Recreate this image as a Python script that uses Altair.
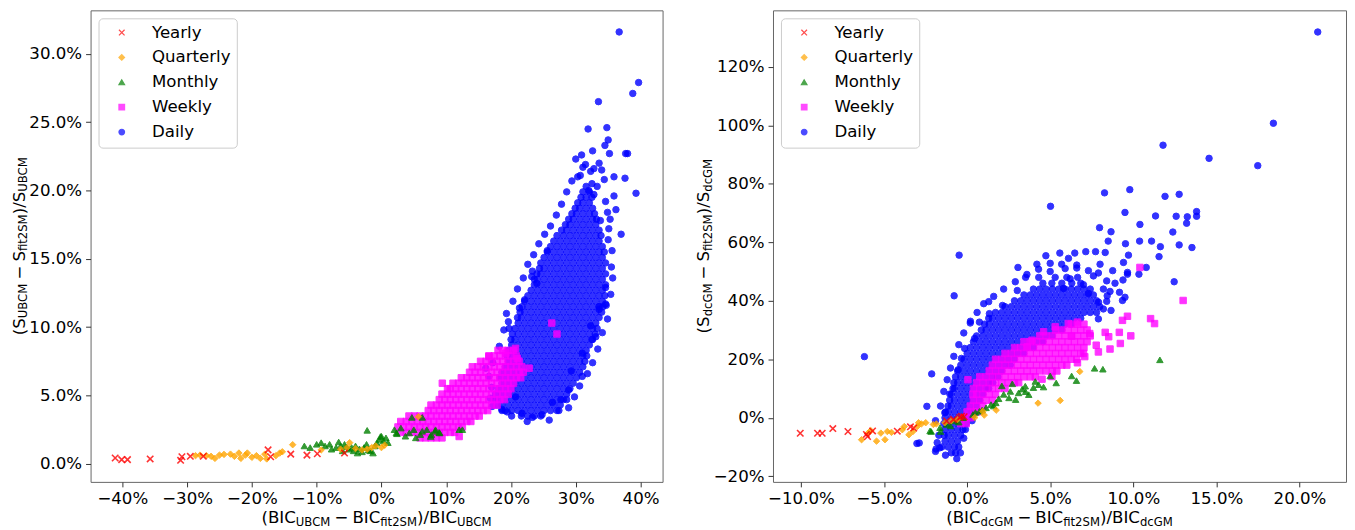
import altair as alt
import pandas as pd

# ---------------- categories / styling ----------------
FREQS = ["Yearly", "Quarterly", "Monthly", "Weekly", "Daily"]
COLORS = ["#ff0000", "#ffa500", "#008000", "#ff00ff", "#0000ff"]
X_PATH = "M-1,-1L1,1M-1,1L1,-1"
SHAPES = [X_PATH, "diamond", "triangle-up", "square", "circle"]

# ---------------- LEFT panel data (values in %) ----------------
yearly_left = [(-41.1, 0.43), (-40.1, 0.31), (-39.2, 0.31), (-35.7, 0.36), (-31.0, 0.26),
               (-30.8, 0.52), (-29.5, 0.55), (-27.5, 0.55), (-17.5, 1.02), (-17.1, 0.52),
               (-14.0, 0.71), (-11.5, 0.64), (-9.9, 0.74), (-5.7, 0.79)]

quarterly_left = [(-28.7, 0.60), (-28.0, 0.64), (-27.0, 0.60), (-26.3, 0.55), (-25.7, 0.40),
                  (-25.0, 0.64), (-24.3, 0.69), (-23.3, 0.71), (-22.7, 0.55), (-22.0, 0.79),
                  (-21.7, 0.40), (-21.0, 0.64), (-20.7, 0.79), (-20.0, 0.48), (-19.3, 0.60),
                  (-18.7, 0.40), (-18.0, 0.71), (-17.7, 0.36), (-16.3, 0.60), (-15.7, 0.79),
                  (-15.3, 0.88), (-13.7, 1.40), (-9.3, 1.02), (-6.3, 1.07), (-5.3, 1.19),
                  (-4.9, 1.55), (-4.0, 1.12), (-3.0, 1.02), (-2.2, 1.07), (-1.5, 1.19),
                  (-0.9, 1.31), (0.0, 1.19), (0.5, 1.36), (5.7, 3.45)]

monthly_left = [(-11.9, 1.31), (-11.0, 1.19), (-10.0, 1.43), (-9.3, 1.55), (-8.7, 1.31), (-8.0, 1.43),
                (-7.7, 1.07), (-7.0, 1.19), (-6.3, 1.31), (-6.0, 0.95), (-5.7, 1.43), (-5.0, 1.07),
                (-4.3, 0.95), (-4.0, 1.31), (-3.7, 0.79), (-3.0, 0.88), (-2.7, 1.19), (-2.3, 1.43),
                (-2.2, 2.45), (-1.7, 0.95), (-1.3, 0.79), (-1.0, 1.31), (-0.7, 1.55), (-0.3, 1.79),
                (0.0, 2.02), (0.3, 1.67), (0.7, 1.90), (1.0, 1.55), (2.0, 2.50), (2.3, 2.26),
                (3.0, 2.62), (3.7, 2.02), (4.3, 2.26), (5.0, 2.50), (5.3, 1.90), (6.0, 2.14),
                (6.3, 2.38), (7.0, 2.50), (7.7, 2.14), (8.3, 2.38), (9.0, 2.26), (12.0, 2.50),
                (4.7, 3.4), (6.3, 3.4), (2.4, 2.2), (-0.15, 2.0), (8.35, 2.5), (7.6, 2.0),
                (12.5, 2.5), (8.9, 2.3), (-3.4, 1.1), (-5.4, 1.25), (-6.6, 1.6), (-2.0, 1.0), (-4.6, 1.2)]

weekly_left_rows = [
    (1.9, [5.95, 6.8, 7.65, 8.5, 9.35]),
    (2.3, [2.98, 3.83, 4.68, 5.53, 6.38, 7.23, 8.08, 8.93, 9.78, 10.63, 11.3]),
    (2.7, [2.55, 3.4, 4.25, 5.1, 5.95, 6.8, 7.65, 8.5, 9.35, 10.2, 11.05, 11.9, 12.5]),
    (3.1, [2.98, 3.83, 4.68, 5.53, 6.38, 7.23, 8.08, 8.93, 9.78, 10.63, 11.48, 12.33, 13.18, 13.8]),
    (3.5, [4.25, 5.1, 5.95, 6.8, 7.65, 8.5, 9.35, 10.2, 11.05, 11.9, 12.75, 13.6, 14.45, 15.1]),
    (3.9, [7.23, 8.08, 8.93, 9.78, 10.63, 11.48, 12.33, 13.18, 14.03, 14.88, 15.73, 16.4]),
    (4.3, [7.65, 8.5, 9.35, 10.2, 11.05, 11.9, 12.75, 13.6, 14.45, 15.3, 16.15, 17.0, 17.85]),
    (4.7, [8.93, 9.78, 10.63, 11.48, 12.33, 13.18, 14.03, 14.88, 15.73, 16.58, 17.43, 18.28, 19.0]),
    (5.1, [9.35, 10.2, 11.05, 11.9, 12.75, 13.6, 14.45, 15.3, 16.15, 17.0, 17.85, 18.7, 19.55]),
    (5.5, [10.2, 10.63, 11.48, 12.33, 13.18, 14.03, 14.88, 15.73, 16.58, 17.43, 18.28, 19.13, 19.98]),
    (5.9, [9.4, 11.05, 11.9, 12.75, 13.6, 14.45, 15.3, 16.15, 17.0, 17.85, 18.7, 19.55, 20.4]),
    (6.3, [12.33, 13.18, 14.03, 14.88, 15.73, 16.58, 17.43, 18.28, 19.13, 19.98, 20.83, 21.5]),
    (6.7, [13.6, 14.45, 15.3, 16.15, 17.0, 17.85, 18.7, 19.55, 20.4, 21.25, 21.9]),
    (7.1, [14.03, 14.88, 15.73, 16.58, 17.43, 18.28, 19.13, 19.98, 20.83, 21.68]),
    (7.5, [15.3, 16.15, 17.0, 17.85, 18.7, 19.55, 20.4, 21.25]),
    (7.9, [16.58, 17.43, 18.28, 19.13, 19.98, 20.83]),
    (8.3, [18.0, 18.7, 19.55, 20.4]),
]
weekly_left_extra = [(26.3, 10.3), (27.1, 9.5), (22.8, 7.0), (21.0, 7.7), (19.2, 8.1),
                     (20.7, 8.45), (16.6, 7.85), (12.0, 2.0)]

daily_left_rows = [
    (3.5, [21.6, 22.6, 23.6, 24.6]),
    (3.9, [18.6, 19.1, 20.1, 21.1, 22.1, 23.1, 24.1, 25.1, 26.1, 27.1]),
    (4.3, [17.8, 18.6, 19.6, 20.6, 21.6, 22.6, 23.6, 24.6, 25.6, 26.6, 27.6]),
    (4.7, [17.5, 18.1, 19.1, 20.1, 21.1, 22.1, 23.1, 24.1, 25.1, 26.1, 27.1, 28.1, 28.6]),
    (5.1, [17.6, 18.6, 19.6, 20.6, 21.6, 22.6, 23.6, 24.6, 25.6, 26.6, 27.6, 28.6]),
    (5.5, [18.1, 19.1, 20.1, 21.1, 22.1, 23.1, 24.1, 25.1, 26.1, 27.1, 28.1, 29.1]),
    (5.9, [18.6, 19.6, 20.6, 21.6, 22.6, 23.6, 24.6, 25.6, 26.6, 27.6, 28.6, 29.6]),
    (6.3, [18.3, 19.1, 20.1, 21.1, 22.1, 23.1, 24.1, 25.1, 26.1, 27.1, 28.1, 29.1, 30.1]),
    (6.7, [18.6, 19.6, 20.6, 21.6, 22.6, 23.6, 24.6, 25.6, 26.6, 27.6, 28.6, 29.6, 30.6]),
    (7.1, [19.1, 20.1, 21.1, 22.1, 23.1, 24.1, 25.1, 26.1, 27.1, 28.1, 29.1, 30.1, 31.1]),
    (7.5, [19.6, 20.6, 21.6, 22.6, 23.6, 24.6, 25.6, 26.6, 27.6, 28.6, 29.6, 30.6, 31.4]),
    (7.9, [19.4, 20.1, 21.1, 22.1, 23.1, 24.1, 25.1, 26.1, 27.1, 28.1, 29.1, 30.1, 31.1, 31.7]),
    (8.3, [19.6, 20.6, 21.6, 22.6, 23.6, 24.6, 25.6, 26.6, 27.6, 28.6, 29.6, 30.6, 31.6]),
    (8.7, [20.1, 21.1, 22.1, 23.1, 24.1, 25.1, 26.1, 27.1, 28.1, 29.1, 30.1, 31.1, 32.1]),
    (9.1, [20.0, 20.6, 21.6, 22.6, 23.6, 24.6, 25.6, 26.6, 27.6, 28.6, 29.6, 30.6, 31.6, 32.6]),
    (9.5, [20.2, 21.1, 22.1, 23.1, 24.1, 25.1, 26.1, 27.1, 28.1, 29.1, 30.1, 31.1, 32.1, 33.0]),
    (9.9, [20.6, 21.6, 22.6, 23.6, 24.6, 25.6, 26.6, 27.6, 28.6, 29.6, 30.6, 31.6, 32.6, 33.3]),
    (10.3, [21.1, 22.1, 23.1, 24.1, 25.1, 26.1, 27.1, 28.1, 29.1, 30.1, 31.1, 32.1, 33.1]),
    (10.7, [21.0, 21.6, 22.6, 23.6, 24.6, 25.6, 26.6, 27.6, 28.6, 29.6, 30.6, 31.6, 32.6, 33.6]),
    (11.1, [21.4, 22.1, 23.1, 24.1, 25.1, 26.1, 27.1, 28.1, 29.1, 30.1, 31.1, 32.1, 33.1, 34.0]),
    (11.5, [21.7, 22.6, 23.6, 24.6, 25.6, 26.6, 27.6, 28.6, 29.6, 30.6, 31.6, 32.6, 33.6, 34.2]),
    (11.9, [22.1, 23.1, 24.1, 25.1, 26.1, 27.1, 28.1, 29.1, 30.1, 31.1, 32.1, 33.1, 34.1]),
    (12.3, [22.6, 23.6, 24.6, 25.6, 26.6, 27.6, 28.6, 29.6, 30.6, 31.6, 32.6, 33.6, 34.5]),
    (12.7, [23.1, 24.1, 25.1, 26.1, 27.1, 28.1, 29.1, 30.1, 31.1, 32.1, 33.1, 34.1]),
    (13.1, [23.6, 24.6, 25.6, 26.6, 27.6, 28.6, 29.6, 30.6, 31.6, 32.6, 33.6, 34.6]),
    (13.5, [23.6, 24.1, 25.1, 26.1, 27.1, 28.1, 29.1, 30.1, 31.1, 32.1, 33.1, 34.1]),
    (13.9, [24.0, 24.6, 25.6, 26.6, 27.6, 28.6, 29.6, 30.6, 31.6, 32.6, 33.6, 34.6]),
    (14.3, [24.4, 25.1, 26.1, 27.1, 28.1, 29.1, 30.1, 31.1, 32.1, 33.1, 34.1]),
    (14.7, [24.6, 25.6, 26.6, 27.6, 28.6, 29.6, 30.6, 31.6, 32.6, 33.6, 34.6]),
    (15.1, [25.1, 26.1, 27.1, 28.1, 29.1, 30.1, 31.1, 32.1, 33.1, 34.1]),
    (15.5, [25.6, 26.6, 27.6, 28.6, 29.6, 30.6, 31.6, 32.6, 33.6, 34.4]),
    (15.9, [26.1, 27.1, 28.1, 29.1, 30.1, 31.1, 32.1, 33.1, 34.1]),
    (16.3, [26.6, 27.6, 28.6, 29.6, 30.6, 31.6, 32.6, 33.6]),
    (16.7, [27.1, 28.1, 29.1, 30.1, 31.1, 32.1, 33.1, 33.9]),
    (17.1, [27.8, 28.6, 29.6, 30.6, 31.6, 32.6, 33.6]),
    (17.5, [28.4, 29.1, 30.1, 31.1, 32.1, 33.1]),
    (17.9, [28.9, 29.6, 30.6, 31.6, 32.6, 33.2]),
    (18.3, [29.4, 30.1, 31.1, 32.1, 32.9]),
    (18.7, [29.9, 30.6, 31.6, 32.6]),
    (19.1, [30.3, 31.1, 32.1]),
    (19.5, [30.8, 31.6, 32.5]),
    (19.9, [31.1, 32.1]),
    (20.3, [31.6]),
]
daily_left_extra = [(36.7, 31.6), (39.7, 27.9), (38.8, 27.1), (33.5, 26.5), (31.9, 24.5), (34.8, 24.6),
                    (35.0, 23.7), (34.5, 23.3), (35.2, 22.7), (38.0, 22.7), (31.5, 21.9), (32.8, 21.6),
                    (34.0, 21.5), (30.3, 21.0), (30.7, 21.1), (37.6, 20.9), (32.5, 20.5), (33.3, 20.3),
                    (32.0, 20.0), (32.8, 19.7), (35.9, 19.6), (39.3, 19.8), (36.2, 18.6), (34.9, 18.4),
                    (33.8, 17.8), (35.1, 17.2), (35.0, 16.4), (37.0, 16.8), (35.7, 13.6), (34.6, 12.9),
                    (34.6, 11.7), (33.6, 11.3), (32.3, 10.1), (33.1, 9.3), (31.0, 8.1), (29.3, 6.8),
                    (25.6, 15.6), (23.3, 14.1), (23.2, 13.7), (24.0, 13.2), (22.1, 12.0), (21.3, 11.4),
                    (19.6, 10.4), (19.7, 9.9), (16.1, 7.0), (16.6, 6.4), (17.1, 4.2), (18.6, 4.0),
                    (21.7, 3.7), (23.3, 3.4), (24.8, 3.6), (26.4, 4.5), (27.7, 4.7), (28.9, 5.4),
                    (31.0, 6.4), (32.5, 9.1), (33.6, 11.5), (34.7, 11.6), (20.7, 4.9), (35.9, 21.0),
                    (31.1, 21.7), (32.3, 21.4), (37.7, 22.7),
                    (17.0, 5.6), (16.8, 4.8), (17.2, 7.4), (18.2, 8.6), (18.9, 9.8), (19.3, 11.0),
                    (20.3, 11.9), (21.0, 12.8), (21.9, 13.6), (22.6, 14.6), (23.5, 15.3), (24.3, 16.1),
                    (25.2, 16.8), (26.1, 17.4), (27.0, 18.2), (27.8, 19.0), (28.6, 19.9), (29.4, 20.7),
                    (30.0, 22.3), (30.9, 22.6), (32.6, 22.9), (33.6, 22.0), (34.4, 20.8), (34.6, 19.2),
                    (35.3, 17.9), (35.6, 15.6), (35.5, 14.4), (35.4, 12.4), (34.9, 10.6), (34.1, 9.6),
                    (33.4, 8.4), (32.6, 7.4), (31.8, 6.6), (30.6, 5.7), (29.8, 4.9), (28.9, 4.1),
                    (27.4, 3.9), (25.9, 3.2), (22.5, 3.1), (20.1, 3.5), (19.4, 3.8)]

# ---------------- RIGHT panel data (values in %) ----------------
yearly_right = [(-10.04, -5.3), (-9.0, -5.3), (-8.72, -5.3), (-8.08, -3.7), (-7.17, -4.7),
                (-6.06, -5.7), (-5.99, -6.4), (-5.69, -4.5), (-4.2, -4.6), (-3.41, -3.1),
                (-3.21, -3.5), (-0.82, -0.56), (-0.44, 0.1), (-0.18, 0.34), (-1.23, -1.1), (-0.34, 0.5)]

quarterly_right = [(-6.35, -7.5), (-5.96, -5.25), (-5.8, -4.4), (-5.45, -8.0), (-5.19, -5.25),
                   (-4.94, -7.5), (-4.8, -4.7), (-4.55, -5.0), (-3.9, -4.1), (-3.78, -3.0),
                   (-3.5, -5.8), (-3.26, -4.7), (-3.0, -3.0), (-2.75, -2.1), (-2.49, -1.7),
                   (-1.85, -2.1), (-1.34, -1.7), (-0.95, -1.0), (-0.57, -0.56), (0.46, 0.1),
                   (1.03, 0.9), (1.75, 2.6), (4.27, 5.0), (5.6, 5.9), (6.78, 15.8), (0.94, 2.2),
                   (-2.92, -1.7), (-2.03, -2.3)]

monthly_right = [(11.6, 19.8), (7.67, 16.9), (8.17, 16.6), (6.29, 14.3), (6.58, 12.7), (5.36, 11.9),
                 (5.0, 14.3), (4.3, 11.3), (4.6, 10.5), (3.71, 7.9), (3.32, 9.8), (2.72, 11.6),
                 (2.09, 10.9), (2.52, 6.8), (2.92, 6.2), (1.73, 5.1), (1.44, 4.5), (1.14, 3.4),
                 (0.74, 2.2), (0.35, 1.1), (-0.24, 0.0), (-0.74, -1.1), (-1.23, -2.3), (-1.63, -3.4),
                 (-2.23, -4.5), (-2.16, -4.7), (-1.6, -4.7), (3.52, 8.9), (3.99, 10.3), (2.2, 8.0),
                 (1.9, 6.5), (2.6, 9.0), (3.1, 8.5), (0.9, 2.6), (0.5, 1.8), (-0.5, -1.5),
                 (-1.0, -2.8), (1.6, 4.0), (3.5, 10.8), (4.1, 12.4)]

weekly_right_rows = [
    (-2, [-0.38, -0.05]),
    (0, [-0.19, 0.19]),
    (2, [0.0, 0.38, 0.6]),
    (4, [0.19, 0.57, 0.95]),
    (6, [0.38, 0.76, 1.14, 1.52]),
    (8, [0.35, 0.57, 0.95, 1.33, 1.71]),
    (10, [0.38, 0.76, 1.14, 1.52, 1.9, 2.28]),
    (12, [0.57, 0.95, 1.33, 1.71, 2.09, 2.47, 2.85, 3.1]),
    (14, [0.76, 1.14, 1.52, 1.9, 2.28, 2.66, 3.04, 3.42, 3.8, 4.1]),
    (16, [1.33, 1.71, 2.09, 2.47, 2.85, 3.23, 3.61, 3.99, 4.37, 4.75, 5.13, 5.4]),
    (18, [1.52, 1.9, 2.28, 2.66, 3.04, 3.42, 3.8, 4.18, 4.56, 4.94, 5.32, 5.7, 6.0]),
    (20, [1.71, 2.09, 2.47, 2.85, 3.23, 3.61, 3.99, 4.37, 4.75, 5.13, 5.51, 5.89, 6.27, 6.6]),
    (22, [2.28, 2.66, 3.04, 3.42, 3.8, 4.18, 4.56, 4.94, 5.32, 5.7, 6.08, 6.46, 6.84, 7.0]),
    (24, [2.85, 3.23, 3.61, 3.99, 4.37, 4.75, 5.13, 5.51, 5.89, 6.27, 6.65, 7.03]),
    (26, [3.42, 3.8, 4.18, 4.56, 4.94, 5.32, 5.7, 6.08, 6.46, 6.84, 7.22]),
    (28, [4.37, 4.75, 5.13, 5.51, 5.89, 6.27, 6.65, 7.03, 7.41]),
    (30, [5.32, 5.7, 6.08, 6.46, 6.84, 7.22]),
    (32, [6.27, 6.65, 7.03]),
]
weekly_right_extra = [(10.4, 51.4), (13.0, 40.1), (9.65, 34.7), (9.35, 33.3), (11.04, 33.9), (11.28, 32.2),
                      (9.85, 28.0), (9.22, 25.4), (9.16, 29.2), (8.52, 27.7), (8.31, 29.2), (7.77, 24.8),
                      (7.08, 20.9), (6.64, 18.8), (7.38, 28.8), (6.64, 32.7), (6.09, 32.2), (6.29, 27.9),
                      (5.3, 31.1), (4.6, 29.4), (3.91, 26.5), (3.62, 24.3), (5.1, 14.1), (4.51, 13.2),
                      (0.05, 13.0), (7.9, 22.5), (8.6, 23.5)]

daily_right_rows = [
    (-14, [-0.62]),
    (-12, [-0.95, -0.7]),
    (-10, [-1.52, -1.14, -0.76, -0.5]),
    (-8, [-1.33, -0.95, -0.57]),
    (-6, [-1.38, -1.14, -0.76, -0.38]),
    (-4, [-1.33, -0.95, -0.57, -0.25]),
    (-2, [-1.4, -1.14, -0.76, -0.38, -0.05]),
    (0, [-1.33, -0.95, -0.57, -0.19, 0.1]),
    (2, [-1.3, -1.14, -0.76, -0.38, 0.0, 0.3]),
    (4, [-1.15, -0.95, -0.57, -0.19, 0.19, 0.57]),
    (6, [-1.05, -0.76, -0.38, 0.0, 0.38, 0.76]),
    (8, [-0.95, -0.57, -0.19, 0.19, 0.57, 0.95]),
    (10, [-0.85, -0.76, -0.38, 0.0, 0.38, 0.76, 1.14, 1.3]),
    (12, [-0.8, -0.57, -0.19, 0.19, 0.57, 0.95, 1.33, 1.55]),
    (14, [-0.7, -0.38, 0.0, 0.38, 0.76, 1.14, 1.52, 1.85]),
    (16, [-0.57, -0.19, 0.19, 0.57, 0.95, 1.33, 1.71, 2.09]),
    (18, [-0.38, 0.0, 0.38, 0.76, 1.14, 1.52, 1.9, 2.28, 2.6]),
    (20, [-0.19, 0.19, 0.57, 0.95, 1.33, 1.71, 2.09, 2.47, 2.85]),
    (22, [0.0, 0.38, 0.76, 1.14, 1.52, 1.9, 2.28, 2.66, 3.04, 3.4]),
    (24, [0.19, 0.57, 0.95, 1.33, 1.71, 2.09, 2.47, 2.85, 3.23, 3.61, 3.99]),
    (26, [0.38, 0.76, 1.14, 1.52, 1.9, 2.28, 2.66, 3.04, 3.42, 3.8, 4.18, 4.56]),
    (28, [0.57, 0.95, 1.33, 1.71, 2.09, 2.47, 2.85, 3.23, 3.61, 3.99, 4.37, 4.75, 5.13]),
    (30, [0.85, 1.14, 1.52, 1.9, 2.28, 2.66, 3.04, 3.42, 3.8, 4.18, 4.56, 4.94, 5.32, 5.7]),
    (32, [1.05, 1.33, 1.71, 2.09, 2.47, 2.85, 3.23, 3.61, 3.99, 4.37, 4.75, 5.13, 5.51, 5.89, 6.27]),
    (34, [1.3, 1.52, 1.9, 2.28, 2.66, 3.04, 3.42, 3.8, 4.18, 4.56, 4.94, 5.32, 5.7, 6.08, 6.46, 6.84]),
    (36, [1.71, 2.09, 2.47, 2.85, 3.23, 3.61, 3.99, 4.37, 4.75, 5.13, 5.51, 5.89, 6.27, 6.65, 7.03, 7.41, 7.79]),
    (38, [2.28, 2.66, 3.04, 3.42, 3.8, 4.18, 4.56, 4.94, 5.32, 5.7, 6.08, 6.46, 6.84, 7.22, 7.6, 7.98]),
    (40, [2.85, 3.23, 3.61, 3.99, 4.37, 4.75, 5.13, 5.51, 5.89, 6.27, 6.65, 7.03, 7.41, 7.79]),
    (42, [3.42, 3.8, 4.18, 4.56, 4.94, 5.32, 5.7, 6.08, 6.46, 6.84, 7.22, 7.6]),
    (44, [3.99, 4.37, 4.75, 5.13, 5.51, 5.89, 6.27, 6.65, 7.03, 7.41]),
    (46, [4.56, 5.1, 5.7, 6.3, 6.84]),
    (48, [5.3, 6.0, 6.65]),
]
daily_right_extra = [(5.58, 56.3), (4.74, 55.4), (5.69, 52.5), (6.48, 56.3), (7.14, 56.8), (7.73, 56.8),
                     (8.31, 56.5), (9.41, 53.1), (9.65, 49.7), (10.34, 49.1), (9.38, 47.1), (9.5, 41.2),
                     (8.66, 36.7), (9.35, 40.1), (7.91, 39.5), (8.43, 41.7), (9.17, 42.9), (8.49, 60.4),
                     (9.53, 59.5), (9.71, 55.6), (10.78, 51.4), (11.55, 55.1), (11.63, 58.5), (11.1, 60.4),
                     (10.38, 60.4), (12.46, 46.5), (13.53, 58.2), (12.76, 59.1), (12.38, 63.5), (8.66, 63.6),
                     (7.97, 65.0), (13.21, 66.5), (13.81, 68.9), (13.81, 70.5), (13.25, 68.7), (12.58, 68.9),
                     (11.34, 69.0), (10.4, 66.1), (9.5, 70.2), (5.02, 72.3), (12.76, 76.4), (11.91, 75.7),
                     (9.79, 78.0), (8.27, 76.9), (17.49, 86.2), (14.56, 88.7), (11.79, 93.2), (18.43, 100.7),
                     (21.1, 131.9), (3.06, 51.4), (1.3, 39.7), (-0.48, 55.6), (-0.78, 41.7), (-2.13, 15.0),
                     (-2.42, 3.9), (-6.18, 20.9), (-3.02, -8.8), (-1.87, -10.7), (-1.65, -10.3), (-2.88, -8.6),
                     (4.31, 48.0), (3.52, 48.0), (3.02, 43.5), (2.13, 38.4), (6.2, 47.5), (7.0, 45.5),
                     (7.6, 48.5), (6.6, 51.2), (8.0, 52.5), (5.8, 44.2), (8.2, 44.0), (8.9, 46.0),
                     (7.3, 42.5), (6.1, 54.5), (4.2, 52.5), (5.0, 50.0), (-1.04, 8.1), (-1.34, 1.7),
                     (-0.54, 16.4), (-0.34, 20.3), (-0.15, 23.7), (0.45, 27.1), (0.19, 32.4), (0.74, 32.7),
                     (1.34, 35.6), (8.76, 50.3), (9.65, 49.1),
                     (-1.7, -6.0), (-1.9, -1.0), (-1.6, 4.0), (-1.4, 9.0), (-1.2, 13.0), (-1.0, 17.0),
                     (-0.8, 21.0), (-0.5, 25.0), (-0.2, 29.0), (0.2, 33.0), (0.6, 36.0), (1.0, 39.0),
                     (1.6, 41.5), (2.2, 44.0), (2.9, 46.5), (3.6, 49.0), (4.3, 50.8), (5.0, 52.8),
                     (5.9, 51.0), (6.6, 52.2), (7.3, 50.3), (7.9, 49.5), (8.4, 46.8), (8.6, 43.2),
                     (8.4, 39.8), (8.2, 37.2), (7.9, 33.8), (-0.2, -7.0), (-0.1, -4.0), (0.3, -1.0),
                     (-1.8, -8.5), (-1.9, -11.5), (-1.3, -12.8), (-0.4, -12.0)]

# ---------------- axis ticks ----------------
left_x_ticks = [-0.4, -0.3, -0.2, -0.1, 0.0, 0.1, 0.2, 0.3, 0.4]
left_y_ticks = [0.0, 0.05, 0.10, 0.15, 0.20, 0.25, 0.30]
right_x_ticks = [-0.10, -0.05, 0.0, 0.05, 0.10, 0.15, 0.20]
right_y_ticks = [-0.2, 0.0, 0.2, 0.4, 0.6, 0.8, 1.0, 1.2]


def rows_to_pairs(rows):
    return [(x, y) for y, xs in rows for x in xs]


def build_frame(series):
    recs = []
    for f in ["Daily", "Weekly", "Monthly", "Quarterly", "Yearly"]:
        for x, y in series[f]:
            recs.append({"x": x / 100.0, "y": y / 100.0, "freq": f})
    return pd.DataFrame(recs)


df_left = build_frame({
    "Yearly": yearly_left, "Quarterly": quarterly_left, "Monthly": monthly_left,
    "Weekly": rows_to_pairs(weekly_left_rows) + weekly_left_extra,
    "Daily": rows_to_pairs(daily_left_rows) + daily_left_extra,
})
df_right = build_frame({
    "Yearly": yearly_right, "Quarterly": quarterly_right, "Monthly": monthly_right,
    "Weekly": rows_to_pairs(weekly_right_rows) + weekly_right_extra,
    "Daily": rows_to_pairs(daily_right_rows) + daily_right_extra,
})

FONT = "DejaVu Sans"
LEG = alt.Legend(title=None, orient="top-left", offset=8, padding=6,
                 fillColor="rgba(255,255,255,0.8)", strokeColor="#cccccc", cornerRadius=4,
                 labelFont=FONT, labelFontSize=16.7, labelColor="#000000",
                 symbolSize=32, symbolStrokeWidth=1.2, symbolOpacity=0.7,
                 rowPadding=7, symbolOffset=9, labelOffset=22)


def scatter(df, xdom, ydom, xticks, yticks, xfmt, yfmt, w, h):
    col = alt.Scale(domain=FREQS, range=COLORS)
    shp = alt.Scale(domain=FREQS, range=SHAPES)
    return alt.Chart(df).mark_point(filled=True, size=42, opacity=0.8).encode(
        x=alt.X("x:Q", scale=alt.Scale(domain=xdom, nice=False, zero=False),
                axis=alt.Axis(values=xticks, format=xfmt, title=None)),
        y=alt.Y("y:Q", scale=alt.Scale(domain=ydom, nice=False, zero=False),
                axis=alt.Axis(values=yticks, format=yfmt, title=None)),
        fill=alt.Fill("freq:N", scale=col, legend=LEG),
        stroke=alt.Stroke("freq:N", scale=col, legend=LEG),
        shape=alt.Shape("freq:N", scale=shp, legend=LEG),
        strokeWidth=alt.condition("datum.freq === 'Yearly'", alt.value(1.6), alt.value(1.0)),
    ).properties(width=w, height=h)


# ---------------- composed (mathtext-like) axis titles ----------------
W = {' ': 318, '(': 390, ')': 390, '/': 337, '−': 838, 'B': 686, 'C': 698, 'G': 775, 'I': 295,
     'M': 863, 'S': 635, 'U': 732, 'c': 550, 'd': 635, 'f': 352, 'i': 278, 't': 392, '2': 636}
FS, SFS, SHIFT, GAP = 16.7, 11.7, 3.0, 4.0


def text_width(s, fs):
    return sum(W[c] for c in s) * fs / 1000.0


def title_layers(parts, center, base, vertical):
    widths = []
    for t, k in parts:
        fs = SFS if k == "s" else FS
        widths.append(text_width(t, fs) + (2 * GAP if k == "op" else 0))
    total = sum(widths)
    layers = []
    acc = 0.0
    for (t, k), w in zip(parts, widths):
        fs = SFS if k == "s" else FS
        off = acc + (GAP if k == "op" else 0)
        shift = SHIFT if k == "s" else 0
        if vertical:
            px, py, ang = base + shift, center + total / 2 - off, 270
        else:
            px, py, ang = center - total / 2 + off, base + shift, 0
        layers.append(
            alt.Chart(alt.Data(values=[{"t": t}])).mark_text(
                align="left", baseline="alphabetic", font=FONT, fontSize=fs,
                color="#000000", angle=ang
            ).encode(x=alt.value(px), y=alt.value(py), text="t:N")
        )
        acc += w
    return layers


WL, WR, H = 575, 576, 474

xl_parts = [("(BIC", "n"), ("UBCM", "s"), ("−", "op"), ("BIC", "n"), ("fit2SM", "s"), (")/BIC", "n"), ("UBCM", "s")]
yl_parts = [("(S", "n"), ("UBCM", "s"), ("−", "op"), ("S", "n"), ("fit2SM", "s"), (")/S", "n"), ("UBCM", "s")]
xr_parts = [("(BIC", "n"), ("dcGM", "s"), ("−", "op"), ("BIC", "n"), ("fit2SM", "s"), (")/BIC", "n"), ("dcGM", "s")]
yr_parts = [("(S", "n"), ("dcGM", "s"), ("−", "op"), ("S", "n"), ("fit2SM", "s"), (")/S", "n"), ("dcGM", "s")]

left = alt.layer(
    scatter(df_left, [-0.449, 0.434], [-0.0132, 0.3318], left_x_ticks, left_y_ticks, ".0%", ".1%", WL, H),
    *title_layers(xl_parts, WL / 2, 515, False),
    *title_layers(yl_parts, H / 2, -66.4, True),
)
right = alt.layer(
    scatter(df_right, [-0.1168, 0.2280], [-0.2193, 1.393], right_x_ticks, right_y_ticks, ".1%", ".0%", WR, H),
    *title_layers(xr_parts, WR / 2, 515, False),
    *title_layers(yr_parts, H / 2, -64.4, True),
)

chart = alt.hconcat(left, right, spacing=32).resolve_scale(
    x="independent", y="independent", fill="independent", stroke="independent", shape="independent"
).resolve_legend(
    fill="independent", stroke="independent", shape="independent"
).configure_view(
    stroke="#666666", strokeWidth=1
).configure_axis(
    labelFont=FONT, labelFontSize=16.7, labelColor="#000000", tickColor="#333333",
    tickSize=5, tickWidth=1, domain=False, grid=False, labelPadding=4, labelFlush=False
).properties(
    padding={"left": 3, "top": 0, "right": 0, "bottom": 0},
    background="white"
)

chart.save("out.html", embed_options={"renderer": "svg", "actions": False})
